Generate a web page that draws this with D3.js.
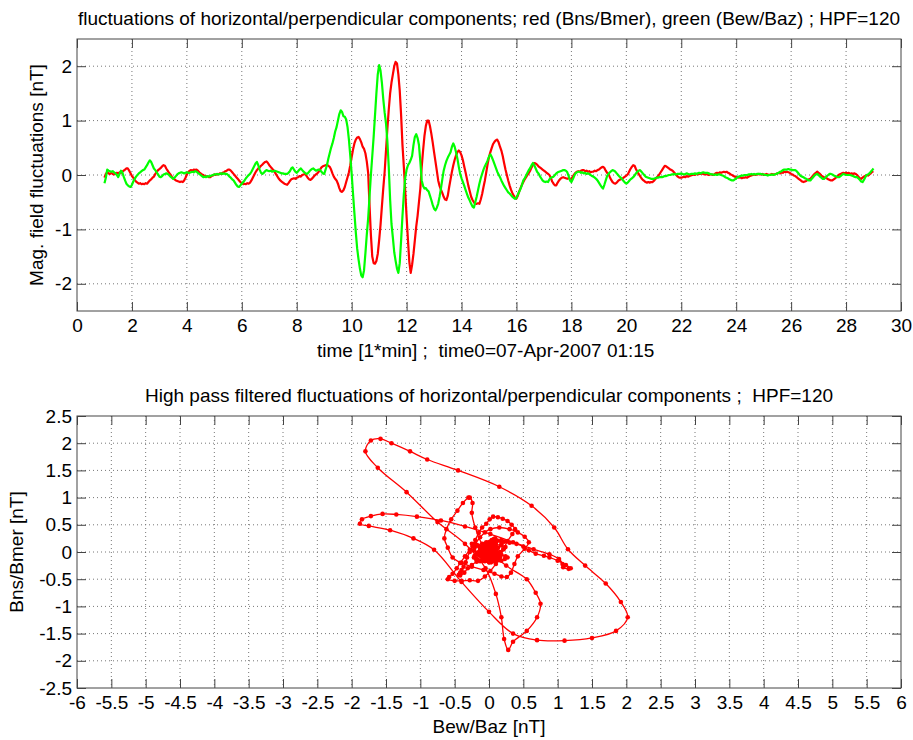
<!DOCTYPE html>
<html>
<head>
<meta charset="utf-8">
<script src="https://cdn.jsdelivr.net/npm/d3@7"></script>
<style>
  body { margin: 0; background: #fff; }
  svg text { font-family: "Liberation Sans", Arial, Helvetica, sans-serif; fill: #000; font-size: 19px; white-space: pre; }
  .grid line { stroke: #777; stroke-width: 1; stroke-dasharray: 1 3; }
  .tick line { stroke: #444; }
</style>
</head>
<body>
<div id="chart"></div>
<script>
// samples every 0.05 min starting at minute 1
const sampleStart = 1;
const sampleStep = 0.05;

// red: Bns/Bmer [nT], one row per minute
const bnsRed = [
  -0.05,0.02,0.05,0.03,0.02,0.04,0.02,0.01,0.03,0.04,0.03,0.05,0.04,0.06,0.08,0.10,0.12,0.12,0.08,0.03,
  -0.02,-0.05,-0.09,-0.12,-0.14,-0.16,-0.15,-0.17,-0.16,-0.17,-0.15,-0.16,-0.13,-0.10,-0.08,-0.05,-0.03,0.02,0.05,0.09,
  0.11,0.13,0.16,0.18,0.17,0.12,0.08,0.04,0.01,-0.03,-0.06,-0.08,-0.10,-0.11,-0.12,-0.13,-0.12,-0.13,-0.10,-0.05,
  0.01,0.05,0.08,0.09,0.08,0.10,0.09,0.10,0.08,0.05,0.03,0.01,0.00,-0.02,-0.03,-0.02,-0.04,-0.04,-0.02,-0.01,
  0.01,0.00,0.02,0.01,0.03,0.02,0.04,0.05,0.07,0.08,0.10,0.10,0.08,0.05,0.02,-0.01,-0.04,-0.07,-0.10,-0.13,
  -0.15,-0.17,-0.16,-0.17,-0.15,-0.16,-0.14,-0.10,-0.05,0.00,0.05,0.09,0.12,0.14,0.17,0.19,0.22,0.24,0.25,0.22,
  0.18,0.15,0.12,0.09,0.05,0.01,-0.03,-0.07,-0.10,-0.12,-0.14,-0.16,-0.17,-0.18,-0.15,-0.11,-0.08,-0.07,-0.06,-0.07,
  -0.05,-0.04,-0.02,-0.03,0.00,0.01,0.02,-0.01,-0.05,-0.08,-0.09,-0.07,-0.04,-0.01,0.01,0.03,0.06,0.10,0.14,0.16,
  0.17,0.18,0.19,0.17,0.15,0.10,0.03,-0.03,-0.07,-0.10,-0.16,-0.24,-0.30,-0.31,-0.28,-0.22,-0.13,-0.04,0.05,0.18,
  0.33,0.47,0.58,0.65,0.69,0.70,0.66,0.60,0.52,0.48,0.40,0.25,0.04,-0.55,-1.10,-1.50,-1.62,-1.63,-1.58,-1.45,
  -1.20,-0.92,-0.58,-0.25,0.05,0.45,0.85,1.20,1.50,1.70,1.85,2.00,2.08,2.05,1.85,1.55,1.10,0.55,0.15,-0.30,
  -0.77,-1.20,-1.60,-1.80,-1.65,-1.45,-1.20,-0.95,-0.75,-0.50,-0.25,0.15,0.45,0.72,0.90,1.00,1.00,0.90,0.76,0.60,
  0.42,0.25,0.08,-0.10,-0.20,-0.27,-0.33,-0.40,-0.45,-0.46,-0.38,-0.22,-0.08,0.06,0.18,0.28,0.36,0.42,0.45,0.42,
  0.36,0.27,0.15,0.04,-0.08,-0.20,-0.30,-0.40,-0.46,-0.50,-0.53,-0.53,-0.52,-0.53,-0.45,-0.35,-0.22,-0.10,0.05,0.20,
  0.33,0.42,0.50,0.57,0.61,0.64,0.65,0.60,0.52,0.45,0.35,0.22,0.10,0.00,-0.10,-0.19,-0.27,-0.33,-0.38,-0.42,
  -0.43,-0.38,-0.30,-0.24,-0.18,-0.13,-0.08,-0.04,0.00,0.04,0.08,0.14,0.19,0.22,0.21,0.19,0.16,0.14,0.12,0.10,
  0.08,0.06,0.04,0.02,0.00,-0.05,-0.12,-0.16,-0.19,-0.19,-0.14,-0.10,-0.07,-0.05,-0.04,-0.05,-0.06,-0.07,-0.06,-0.07,
  -0.07,-0.03,0.01,0.04,0.06,0.07,0.06,0.08,0.09,0.09,0.07,0.08,0.06,0.07,0.05,0.06,0.06,0.08,0.07,0.09,
  0.10,0.12,0.14,0.15,0.13,0.08,0.04,0.02,-0.04,-0.09,-0.13,-0.15,-0.16,-0.14,-0.11,-0.09,-0.08,-0.07,-0.05,-0.03,
  -0.01,0.01,0.06,0.11,0.15,0.18,0.17,0.11,0.06,0.02,-0.02,-0.06,-0.09,-0.11,-0.13,-0.14,-0.13,-0.14,-0.13,-0.13,
  -0.11,-0.08,-0.05,-0.02,0.01,0.05,0.09,0.13,0.17,0.16,0.14,0.12,0.10,0.09,0.07,0.04,0.01,-0.02,-0.04,-0.05,
  -0.05,-0.04,-0.03,-0.04,-0.02,-0.03,-0.02,-0.01,0.00,0.01,0.00,0.02,0.01,0.02,0.02,0.03,0.02,0.01,0.02,0.01,
  0.00,0.01,0.01,0.00,0.01,0.03,0.04,0.03,0.05,0.04,0.05,0.06,0.05,0.06,0.04,0.03,0.01,0.00,-0.02,-0.03,
  -0.04,-0.04,-0.05,-0.04,-0.06,-0.05,-0.05,-0.04,-0.05,-0.03,-0.02,-0.01,0.00,0.01,0.00,0.01,0.02,0.01,0.01,0.02,
  0.00,0.01,0.02,0.01,0.00,0.01,0.02,0.01,0.01,0.02,0.03,0.04,0.03,0.05,0.04,0.06,0.05,0.06,0.05,0.04,
  0.02,0.01,-0.01,-0.02,-0.04,-0.06,-0.08,-0.10,-0.12,-0.13,-0.12,-0.11,-0.09,-0.08,-0.07,-0.04,-0.01,0.02,0.04,0.06,
  0.04,0.02,-0.01,-0.03,-0.04,-0.05,-0.06,-0.08,-0.09,-0.10,-0.10,-0.08,-0.06,-0.04,-0.02,0.01,0.02,0.03,0.04,0.03,
  0.04,0.03,0.04,0.02,0.03,0.02,0.03,0.02,0.00,-0.03,-0.06,-0.07,-0.05,-0.03,-0.02,0.00,-0.01,0.01,0.03,0.06,
  0.06
];

// green: Bew/Baz [nT], one row per minute
const bewGreen = [
  -0.15,-0.05,0.10,0.08,0.07,0.06,0.07,0.05,0.03,0.00,-0.04,0.02,0.08,0.05,-0.03,-0.10,-0.16,-0.19,-0.21,-0.22,
  -0.18,-0.12,-0.07,-0.03,0.00,0.03,0.05,0.07,0.09,0.10,0.14,0.18,0.23,0.27,0.24,0.18,0.12,0.09,0.05,0.01,
  -0.03,-0.04,-0.02,0.01,0.02,0.03,0.02,0.00,-0.03,-0.05,-0.07,-0.05,-0.02,0.01,0.03,0.04,0.05,0.04,0.03,0.04,
  0.05,0.04,0.04,0.05,0.06,0.05,0.07,0.06,0.04,0.02,0.00,-0.02,-0.04,-0.03,-0.04,-0.02,-0.03,-0.02,-0.01,0.00,
  0.01,0.01,0.02,0.01,0.02,0.03,0.02,0.03,0.02,0.02,0.00,-0.03,-0.05,-0.08,-0.10,-0.14,-0.18,-0.21,-0.22,-0.19,
  -0.16,-0.13,-0.10,-0.06,-0.03,0.00,0.02,0.06,0.11,0.16,0.21,0.24,0.18,0.10,0.04,0.02,0.04,0.07,0.09,0.08,
  0.07,0.08,0.06,0.07,0.08,0.07,0.06,0.05,0.04,0.03,0.03,0.02,0.02,0.02,0.04,0.07,0.12,0.14,0.10,0.06,
  0.04,0.07,0.10,0.12,0.09,0.06,0.04,0.02,0.03,0.06,0.09,0.11,0.12,0.10,0.08,0.09,0.10,0.09,0.06,0.03,
  0.02,0.10,0.18,0.30,0.40,0.50,0.58,0.68,0.80,0.88,1.00,1.12,1.19,1.16,1.08,1.07,1.02,0.88,0.65,0.35,
  0.02,-0.35,-0.70,-1.05,-1.35,-1.55,-1.72,-1.85,-1.88,-1.75,-1.44,-1.10,-0.80,-0.40,0.00,0.35,0.70,1.10,1.50,1.85,
  2.02,1.92,1.70,1.40,1.15,0.95,0.62,0.15,-0.45,-0.90,-1.15,-1.42,-1.58,-1.72,-1.80,-1.62,-1.20,-0.75,-0.35,-0.05,
  0.10,0.18,0.22,0.28,0.35,0.55,0.70,0.75,0.68,0.55,0.25,-0.10,-0.20,-0.25,-0.24,-0.28,-0.30,-0.38,-0.46,-0.55,
  -0.62,-0.65,-0.60,-0.53,-0.40,-0.25,-0.08,0.08,0.18,0.26,0.32,0.37,0.42,0.52,0.58,0.52,0.42,0.30,0.15,0.02,
  -0.06,-0.13,-0.20,-0.28,-0.35,-0.42,-0.47,-0.53,-0.58,-0.60,-0.50,-0.40,-0.28,-0.16,-0.06,0.02,0.10,0.16,0.21,0.27,
  0.34,0.38,0.33,0.27,0.20,0.13,0.06,0.01,-0.04,-0.10,-0.15,-0.20,-0.24,-0.28,-0.32,-0.34,-0.37,-0.40,-0.42,-0.44,
  -0.42,-0.36,-0.31,-0.25,-0.18,-0.10,-0.06,-0.01,0.04,0.09,0.13,0.18,0.22,0.18,0.12,0.06,0.03,-0.02,-0.06,-0.10,
  -0.12,-0.13,-0.12,-0.13,-0.08,-0.05,-0.04,-0.03,0.00,0.03,0.05,0.06,0.07,0.08,0.09,0.09,0.08,0.05,-0.02,-0.10,
  -0.13,-0.08,-0.02,0.03,0.05,0.06,0.06,0.04,0.05,0.03,0.04,0.02,0.03,0.02,0.00,-0.02,-0.03,-0.05,-0.07,-0.10,
  -0.14,-0.18,-0.22,-0.25,-0.18,-0.10,-0.02,0.02,0.05,0.07,0.09,0.08,0.06,0.03,0.00,-0.03,-0.05,-0.08,-0.11,-0.14,
  -0.16,-0.14,-0.11,-0.08,-0.06,-0.04,-0.01,0.03,0.06,0.08,0.09,0.06,0.03,0.00,-0.03,-0.04,-0.05,-0.06,-0.07,-0.07,
  -0.07,-0.06,-0.05,-0.05,-0.04,-0.04,-0.04,-0.03,-0.02,-0.02,-0.01,0.00,0.00,0.01,0.01,0.02,0.01,0.02,0.02,0.02,
  0.03,0.02,0.01,0.02,0.03,0.02,0.01,0.02,0.02,0.02,0.03,0.02,0.03,0.04,0.03,0.04,0.05,0.04,0.04,0.04,
  0.03,0.02,0.01,0.01,0.00,0.01,0.00,0.01,0.01,0.00,-0.01,-0.02,-0.04,-0.05,-0.06,-0.08,-0.09,-0.10,-0.10,-0.08,
  -0.06,-0.04,-0.03,-0.02,-0.01,-0.01,0.00,0.00,0.00,0.01,0.01,0.02,0.01,0.02,0.01,0.02,0.02,0.02,0.02,0.01,
  0.01,0.00,0.00,-0.01,0.00,0.00,0.01,0.00,0.01,0.02,0.03,0.04,0.06,0.07,0.09,0.10,0.10,0.10,0.11,0.10,
  0.10,0.09,0.09,0.09,0.07,0.04,0.01,-0.02,-0.03,-0.04,-0.06,-0.07,-0.09,-0.10,-0.10,-0.07,-0.04,-0.01,0.01,0.02,
  0.00,-0.03,-0.05,-0.07,-0.07,-0.05,-0.02,0.00,0.02,0.02,0.01,-0.01,-0.02,-0.03,-0.04,-0.04,-0.02,0.00,0.02,0.01,
  0.00,0.00,0.00,0.00,-0.01,-0.02,-0.03,-0.04,-0.04,-0.06,-0.09,-0.12,-0.13,-0.09,-0.04,0.00,0.01,0.03,0.06,0.09,
  0.12
];

const timeTicks = [0, 2, 4, 6, 8, 10, 12, 14, 16, 18, 20, 22, 24, 26, 28, 30];
const fieldTicks = [-2, -1, 0, 1, 2];
const hodoXTicks = [-6, -5.5, -5, -4.5, -4, -3.5, -3, -2.5, -2, -1.5, -1, -0.5, 0, 0.5, 1, 1.5, 2, 2.5, 3, 3.5, 4, 4.5, 5, 5.5, 6];
const hodoYTicks = [-2.5, -2, -1.5, -1, -0.5, 0, 0.5, 1, 1.5, 2, 2.5];

const topTitle = "fluctuations of horizontal/perpendicular components; red (Bns/Bmer), green (Bew/Baz) ; HPF=120";
const topXLabel = "time [1*min] ;  time0=07-Apr-2007 01:15";
const topYLabel = "Mag. field fluctuations [nT]";
const botTitle = "High pass filtered fluctuations of horizontal/perpendicular components ;  HPF=120";
const botXLabel = "Bew/Baz [nT]";
const botYLabel = "Bns/Bmer [nT]";

var width = 913, height = 740;
var left = 77, right = 901;
var fmt = (d) => String(d);

var svg = d3.select("#chart").append("svg")
  .attr("width", width)
  .attr("height", height);

var samples = d3.range(Math.min(bnsRed.length, bewGreen.length)).map(function (i) {
  return { t: sampleStart + i * sampleStep, red: bnsRed[i], green: bewGreen[i] };
});

// boxed matlab-like axes: dotted grid, ticks pointing inwards on all four sides
function axesBox(x, y, xt, yt, top, bottom) {
  var g = svg.append("g");

  var grid = g.append("g").attr("class", "grid");
  grid.selectAll(".gx").data(xt.filter((d) => x(d) > left + 1 && x(d) < right - 1)).enter().append("line")
    .attr("x1", (d) => x(d)).attr("x2", (d) => x(d))
    .attr("y1", top).attr("y2", bottom);
  grid.selectAll(".gy").data(yt.filter((d) => y(d) > top + 1 && y(d) < bottom - 1)).enter().append("line")
    .attr("x1", left).attr("x2", right)
    .attr("y1", (d) => y(d)).attr("y2", (d) => y(d));

  g.append("g").attr("transform", "translate(0," + bottom + ")")
    .call(d3.axisBottom(x).tickValues(xt).tickFormat(fmt).tickSizeInner(-9).tickSizeOuter(0).tickPadding(8))
    .call((a) => a.select(".domain").remove());
  g.append("g").attr("transform", "translate(0," + top + ")")
    .call(d3.axisTop(x).tickValues(xt).tickFormat("").tickSizeInner(-9).tickSizeOuter(0))
    .call((a) => a.select(".domain").remove());
  g.append("g").attr("transform", "translate(" + left + ",0)")
    .call(d3.axisLeft(y).tickValues(yt).tickFormat(fmt).tickSizeInner(-9).tickSizeOuter(0).tickPadding(5))
    .call((a) => a.select(".domain").remove());
  g.append("g").attr("transform", "translate(" + right + ",0)")
    .call(d3.axisRight(y).tickValues(yt).tickFormat("").tickSizeInner(-9).tickSizeOuter(0))
    .call((a) => a.select(".domain").remove());

  g.selectAll(".tick text").attr("fill", "#000").style("font-size", "19px");
  g.selectAll("g").attr("font-family", null).attr("font-size", null);

  g.append("rect")
    .attr("x", left).attr("y", top)
    .attr("width", right - left).attr("height", bottom - top)
    .attr("fill", "none").attr("stroke", "#444").attr("stroke-width", 1);
  return g;
}

// ---- top: time series ----
var xT = d3.scaleLinear().domain([0, 30]).range([left, right]);
var yT = d3.scaleLinear().domain([-2.5, 2.5]).range([311, 39]);
axesBox(xT, yT, timeTicks, fieldTicks, 39, 311);

var plot1 = svg.append("g");
plot1.append("path").datum(samples)
  .attr("fill", "none").attr("stroke", "#ff0000").attr("stroke-width", 2.2)
  .attr("stroke-linejoin", "round")
  .attr("d", d3.line().x((d) => xT(d.t)).y((d) => yT(d.red)));
plot1.append("path").datum(samples)
  .attr("fill", "none").attr("stroke", "#00ff00").attr("stroke-width", 2.2)
  .attr("stroke-linejoin", "round")
  .attr("d", d3.line().x((d) => xT(d.t)).y((d) => yT(d.green)));

svg.append("text").attr("x", (left + right) / 2).attr("y", 25)
  .attr("text-anchor", "middle").text(topTitle);
svg.append("text").attr("x", 317).attr("y", 357).text(topXLabel);
svg.append("text").attr("transform", "translate(43,175) rotate(-90)")
  .attr("text-anchor", "middle").text(topYLabel);

// ---- bottom: hodogram (green on x, red on y) ----
var xH = d3.scaleLinear().domain([-6, 6]).range([left, right]);
var yH = d3.scaleLinear().domain([-2.5, 2.5]).range([688, 416]);
axesBox(xH, yH, hodoXTicks, hodoYTicks, 416, 688);

var plot2 = svg.append("g");
plot2.append("path").datum(samples)
  .attr("fill", "none").attr("stroke", "#ff0000").attr("stroke-width", 1.3)
  .attr("d", d3.line().curve(d3.curveCatmullRom).x((d) => xH(d.green)).y((d) => yH(d.red)));
plot2.selectAll("circle").data(samples).enter().append("circle")
  .attr("cx", (d) => xH(d.green))
  .attr("cy", (d) => yH(d.red))
  .attr("r", 2.3)
  .attr("fill", "#ff0000");

svg.append("text").attr("x", (left + right) / 2).attr("y", 402)
  .attr("text-anchor", "middle").text(botTitle);
svg.append("text").attr("x", (left + right) / 2).attr("y", 733)
  .attr("text-anchor", "middle").text(botXLabel);
svg.append("text").attr("transform", "translate(23,552) rotate(-90)")
  .attr("text-anchor", "middle").text(botYLabel);
</script>
</body>
</html>
